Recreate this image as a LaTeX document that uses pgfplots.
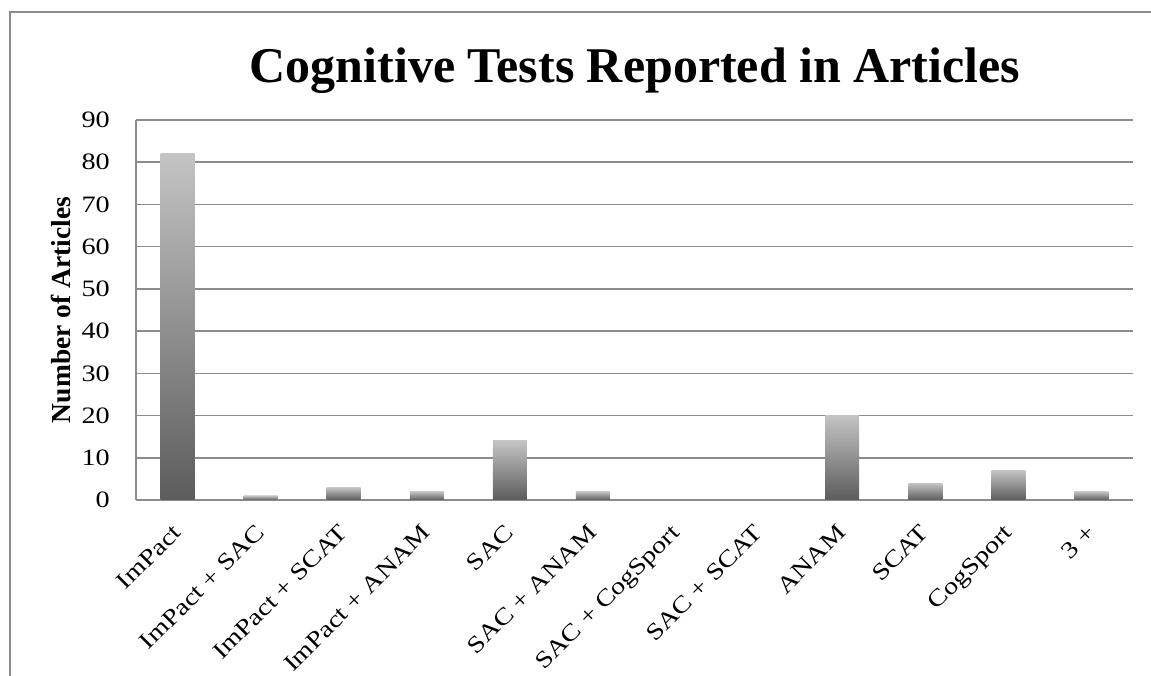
\documentclass[border=0pt]{standalone}
\usepackage{pgfplots}
\pgfplotsset{compat=1.18}
\usepackage{fontspec}
\setmainfont{Liberation Serif}
\newcommand\sx[1]{\scalebox{1.2}[1]{#1}}
\definecolor{gridgray}{HTML}{8C8C8C}
\definecolor{bartop}{HTML}{C4C4C4}
\definecolor{barbot}{HTML}{5C5C5C}
\pgfplotsset{gbar/.style={ybar, bar shift=0pt, bar width=34pt, draw=none, shade, top color=bartop, bottom color=barbot, forget plot}}
\begin{document}
\begin{tikzpicture}[x=1pt,y=1pt]
\path[use as bounding box] (0,0) rectangle (1151,676);
\draw[gridgray, line width=1.5pt] (10,0) -- (10,664) -- (1151,664);
\begin{axis}[
  at={(136pt,176pt)}, anchor=south west,
  scale only axis, width=997pt, height=380pt,
  xmin=-0.5, xmax=11.5, ymin=0, ymax=90,
  ytick={0,10,...,90},
  yticklabels={\sx{0},\sx{10},\sx{20},\sx{30},\sx{40},\sx{50},\sx{60},\sx{70},\sx{80},\sx{90}},
  xtick={0,...,11},
  xticklabels={\sx{ImPact},\sx{ImPact + SAC},\sx{ImPact + SCAT},\sx{ImPact + ANAM},\sx{SAC},\sx{SAC + ANAM},\sx{SAC + CogSport},\sx{SAC + SCAT},\sx{ANAM},\sx{SCAT},\sx{CogSport},\sx{3 +}},
  major tick length=0pt,
  ymajorgrids, grid style={gridgray, line width=1.5pt},
  axis lines=left,
  axis line style={draw=gridgray, line width=1.5pt, -},
  yticklabel style={anchor=east, inner sep=0pt, xshift=-26pt, font=\fontsize{23.5}{23.5}\selectfont},
  xticklabel style={xshift=5pt, yshift=-34pt, rotate=45, anchor=base east, inner sep=0pt, font=\fontsize{23.5}{23.5}\selectfont},
  ylabel={\bfseries Number of Articles},
  ylabel style={at={(axis description cs:-0.0657,0.5)}, anchor=base, font=\fontsize{27.5}{27.5}\selectfont},
  title={Cognitive Tests Reported in Articles},
  title style={at={(axis description cs:0.5005,1.084)}, anchor=base, font=\fontsize{50}{50}\selectfont\bfseries},
  clip=false,
]
\addplot[gbar] coordinates {(0,82)};
\addplot[gbar] coordinates {(1,1)};
\addplot[gbar] coordinates {(2,3)};
\addplot[gbar] coordinates {(3,2)};
\addplot[gbar] coordinates {(4,14)};
\addplot[gbar] coordinates {(5,2)};
\addplot[ybar, bar shift=0pt, bar width=34pt, draw=none, fill=none, forget plot] coordinates {(6,0) (7,0)};
\addplot[gbar] coordinates {(8,20)};
\addplot[gbar] coordinates {(9,4)};
\addplot[gbar] coordinates {(10,7)};
\addplot[gbar] coordinates {(11,2)};
\end{axis}
\end{tikzpicture}
\end{document}
